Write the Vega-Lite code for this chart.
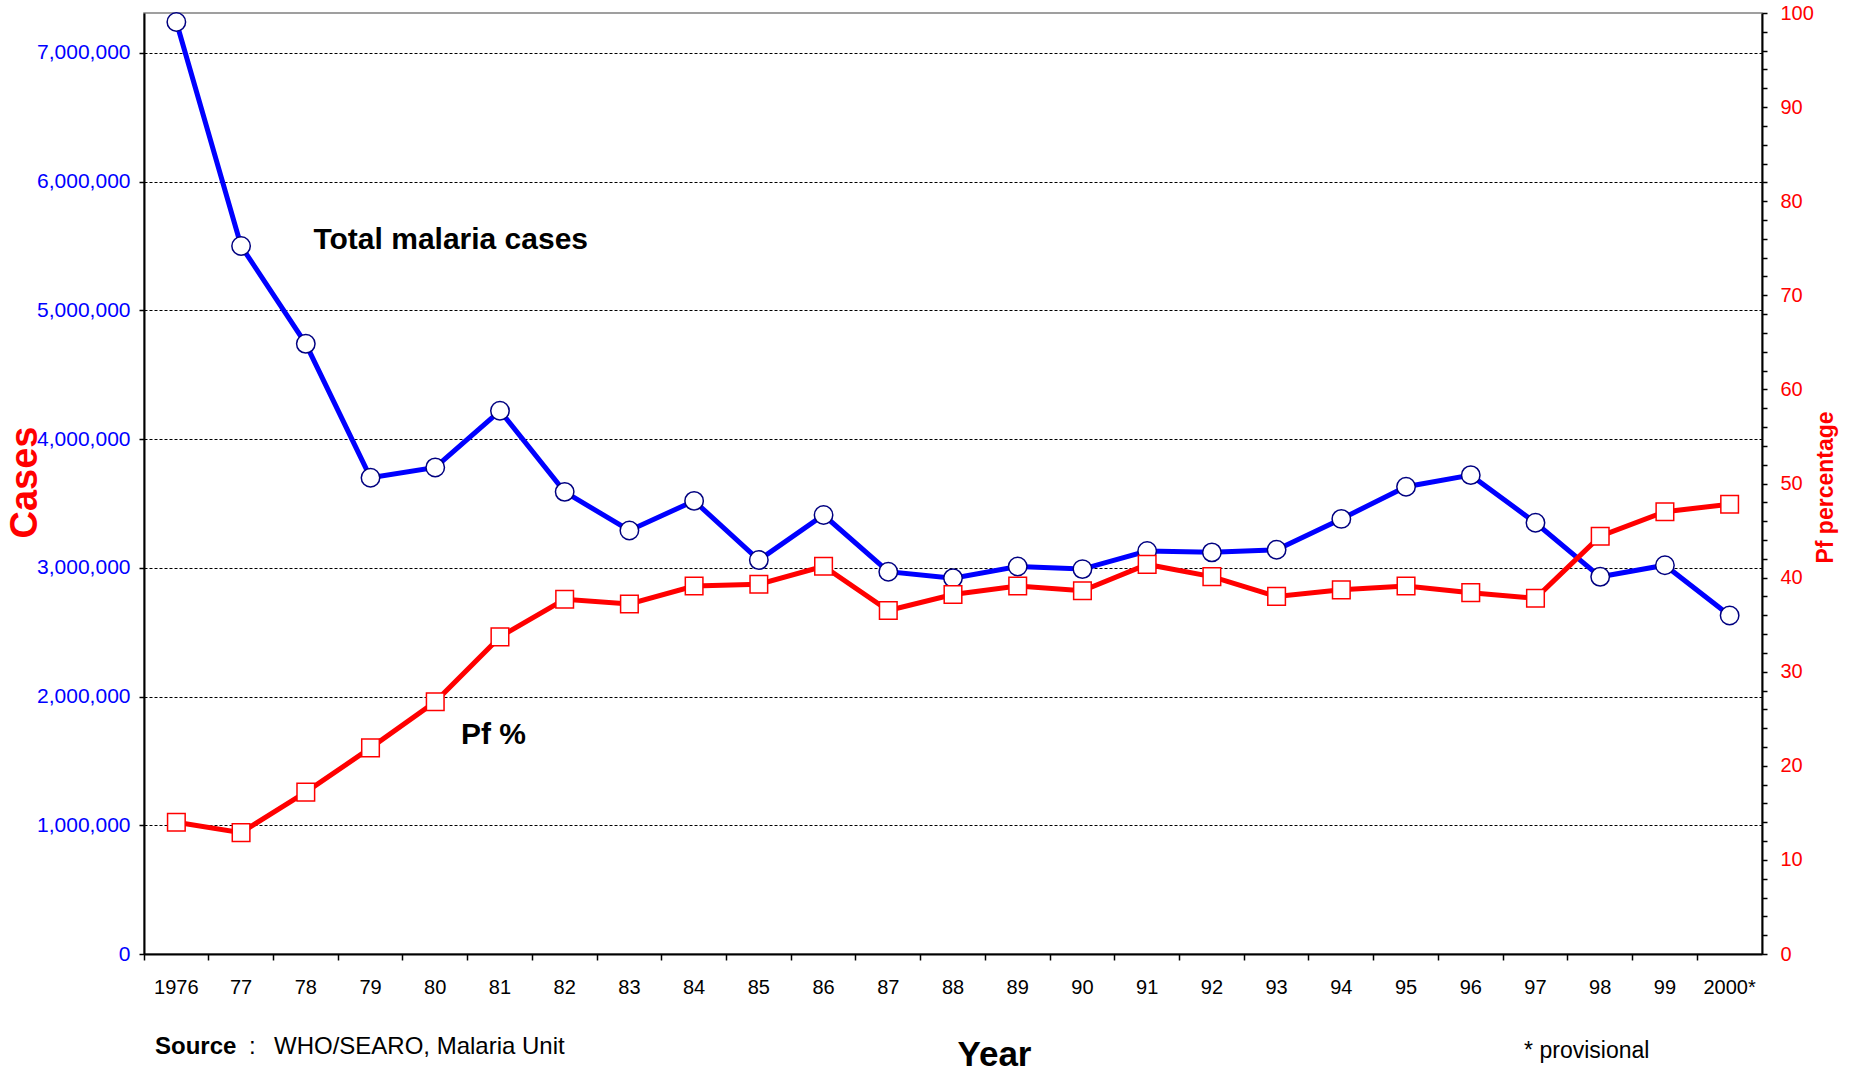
{
  "$schema": "https://vega.github.io/schema/vega-lite/v6.json",
  "autosize": {"type": "none"},
  "padding": {"left": 144, "top": 13, "right": 90, "bottom": 118},
  "width": 1618,
  "height": 941,
  "background": "white",
  "config": {
    "view": {"stroke": "#808080", "strokeWidth": 1.5},
    "font": "Liberation Sans",
    "axis": {"labelFont": "Liberation Sans", "titleFont": "Liberation Sans"}
  },
  "datasets": {
    "main": [
      {"yr": "1976", "cases": 7240000, "pf": 14.0},
      {"yr": "77", "cases": 5500000, "pf": 12.9},
      {"yr": "78", "cases": 4740000, "pf": 17.2},
      {"yr": "79", "cases": 3700000, "pf": 21.9},
      {"yr": "80", "cases": 3780000, "pf": 26.8},
      {"yr": "81", "cases": 4220000, "pf": 33.7},
      {"yr": "82", "cases": 3590000, "pf": 37.7},
      {"yr": "83", "cases": 3290000, "pf": 37.2},
      {"yr": "84", "cases": 3520000, "pf": 39.1},
      {"yr": "85", "cases": 3060000, "pf": 39.3},
      {"yr": "86", "cases": 3410000, "pf": 41.2},
      {"yr": "87", "cases": 2970000, "pf": 36.5},
      {"yr": "88", "cases": 2920000, "pf": 38.2},
      {"yr": "89", "cases": 3010000, "pf": 39.1},
      {"yr": "90", "cases": 2990000, "pf": 38.6},
      {"yr": "91", "cases": 3130000, "pf": 41.4},
      {"yr": "92", "cases": 3120000, "pf": 40.1},
      {"yr": "93", "cases": 3140000, "pf": 38.0},
      {"yr": "94", "cases": 3380000, "pf": 38.7},
      {"yr": "95", "cases": 3630000, "pf": 39.1},
      {"yr": "96", "cases": 3720000, "pf": 38.4},
      {"yr": "97", "cases": 3350000, "pf": 37.8},
      {"yr": "98", "cases": 2930000, "pf": 44.4},
      {"yr": "99", "cases": 3020000, "pf": 47.0},
      {"yr": "2000*", "cases": 2630000, "pf": 47.8}
    ],
    "one": [{"n": 1}]
  },
  "data": {"name": "main"},
  "layer": [
    {
      "layer": [
        {
          "mark": {"type": "line", "color": "#0000FF", "strokeWidth": 5},
          "encoding": {
            "x": {
              "field": "yr", "type": "ordinal", "sort": null, "bandPosition": 0.5,
              "scale": {"type": "band", "paddingInner": 0, "paddingOuter": 0,
                "domain": ["1976","77","78","79","80","81","82","83","84","85","86","87","88","89","90","91","92","93","94","95","96","97","98","99","2000*"]},
              "axis": {
                "orient": "bottom", "bandPosition": 0, "labelAngle": 0,
                "labelFontSize": 20, "labelColor": "black", "labelPadding": 17,
                "domainColor": "black", "domainWidth": 2, "tickColor": "black", "tickSize": 6, "tickWidth": 1.5,
                "title": "Year", "titleFontSize": 35, "titleFontWeight": "bold", "titleColor": "black",
                "titleX": 850, "titleY": 111, "titleAlign": "center", "titleBaseline": "alphabetic"
              }
            },
            "y": {
              "field": "cases", "type": "quantitative",
              "scale": {"domain": [0, 7310000], "nice": false, "zero": true},
              "axis": {
                "orient": "left", "values": [0,1000000,2000000,3000000,4000000,5000000,6000000,7000000],
                "labelExpr": "format(datum.value, ',')", "labelColor": "#0000FF", "labelFontSize": 21, "labelPadding": 9,
                "tickColor": "black", "tickSize": 5, "tickWidth": 1.5,
                "domainColor": "black", "domainWidth": 2,
                "grid": true, "gridColor": "black", "gridDash": [3, 2], "gridWidth": 1,
                "title": "Cases", "titleColor": "#FF0000", "titleFontSize": 38, "titleFontWeight": "bold",
                "titleAngle": -90, "titleX": -119, "titleY": 469, "titleAlign": "center", "titleBaseline": "middle"
              }
            }
          }
        },
        {
          "mark": {"type": "point", "shape": "circle", "filled": true, "fill": "white", "stroke": "#000080", "strokeWidth": 1.5, "size": 340, "opacity": 1},
          "encoding": {
            "x": {"field": "yr", "type": "ordinal", "sort": null, "bandPosition": 0.5},
            "y": {"field": "cases", "type": "quantitative"}
          }
        },
        {
          "data": {"name": "one"},
          "mark": {"type": "text", "text": "Total malaria cases", "fontSize": 30, "fontWeight": "bold", "color": "black", "align": "left", "baseline": "alphabetic", "dx": 40},
          "encoding": {
            "x": {"datum": "78", "type": "ordinal", "bandPosition": 0},
            "y": {"datum": 5480000, "type": "quantitative"}
          }
        },
        {
          "data": {"name": "one"},
          "mark": {"type": "text", "text": "Pf %", "fontSize": 30, "fontWeight": "bold", "color": "black", "align": "left", "baseline": "alphabetic", "dx": 58},
          "encoding": {
            "x": {"datum": "80", "type": "ordinal", "bandPosition": 0},
            "y": {"datum": 1633000, "type": "quantitative"}
          }
        },
        {
          "data": {"name": "one"},
          "mark": {"type": "text", "text": "Source", "fontSize": 24, "fontWeight": "bold", "color": "black", "align": "left", "baseline": "alphabetic", "dx": 11, "clip": false},
          "encoding": {
            "x": {"datum": "1976", "type": "ordinal", "bandPosition": 0},
            "y": {"datum": -775000, "type": "quantitative"}
          }
        },
        {
          "data": {"name": "one"},
          "mark": {"type": "text", "text": ":", "fontSize": 24, "color": "black", "align": "left", "baseline": "alphabetic", "dx": 105, "clip": false},
          "encoding": {
            "x": {"datum": "1976", "type": "ordinal", "bandPosition": 0},
            "y": {"datum": -775000, "type": "quantitative"}
          }
        },
        {
          "data": {"name": "one"},
          "mark": {"type": "text", "text": "WHO/SEARO, Malaria Unit", "fontSize": 24, "color": "black", "align": "left", "baseline": "alphabetic", "dx": 130, "clip": false},
          "encoding": {
            "x": {"datum": "1976", "type": "ordinal", "bandPosition": 0},
            "y": {"datum": -775000, "type": "quantitative"}
          }
        },
        {
          "data": {"name": "one"},
          "mark": {"type": "text", "text": "* provisional", "fontSize": 23, "color": "black", "align": "left", "baseline": "alphabetic", "dx": 21, "clip": false},
          "encoding": {
            "x": {"datum": "97", "type": "ordinal", "bandPosition": 0},
            "y": {"datum": -810000, "type": "quantitative"}
          }
        }
      ]
    },
    {
      "layer": [
        {
          "mark": {"type": "line", "color": "#FF0000", "strokeWidth": 5},
          "encoding": {
            "x": {"field": "yr", "type": "ordinal", "sort": null, "bandPosition": 0.5},
            "y": {
              "field": "pf", "type": "quantitative",
              "scale": {"domain": [0, 100], "nice": false},
              "axis": {
                "orient": "right",
                "values": [0,2,4,6,8,10,12,14,16,18,20,22,24,26,28,30,32,34,36,38,40,42,44,46,48,50,52,54,56,58,60,62,64,66,68,70,72,74,76,78,80,82,84,86,88,90,92,94,96,98,100],
                "tickCount": 60,
                "labelExpr": "datum.value % 10 === 0 ? datum.label : ''",
                "labelOverlap": false,
                "labelColor": "#FF0000", "labelFontSize": 20, "labelPadding": 13,
                "tickColor": "black", "tickSize": 5, "tickWidth": 1.5,
                "domainColor": "black", "domainWidth": 2, "grid": false,
                "title": "Pf percentage", "titleColor": "#FF0000", "titleFontSize": 23, "titleFontWeight": "bold",
                "titleAngle": -90, "titleX": 63, "titleY": 474, "titleAlign": "center", "titleBaseline": "middle"
              }
            }
          }
        },
        {
          "mark": {"type": "point", "shape": "square", "filled": true, "fill": "white", "stroke": "#FF0000", "strokeWidth": 1.5, "size": 310, "opacity": 1},
          "encoding": {
            "x": {"field": "yr", "type": "ordinal", "sort": null, "bandPosition": 0.5},
            "y": {"field": "pf", "type": "quantitative"}
          }
        }
      ]
    }
  ],
  "resolve": {"scale": {"y": "independent"}}
}
